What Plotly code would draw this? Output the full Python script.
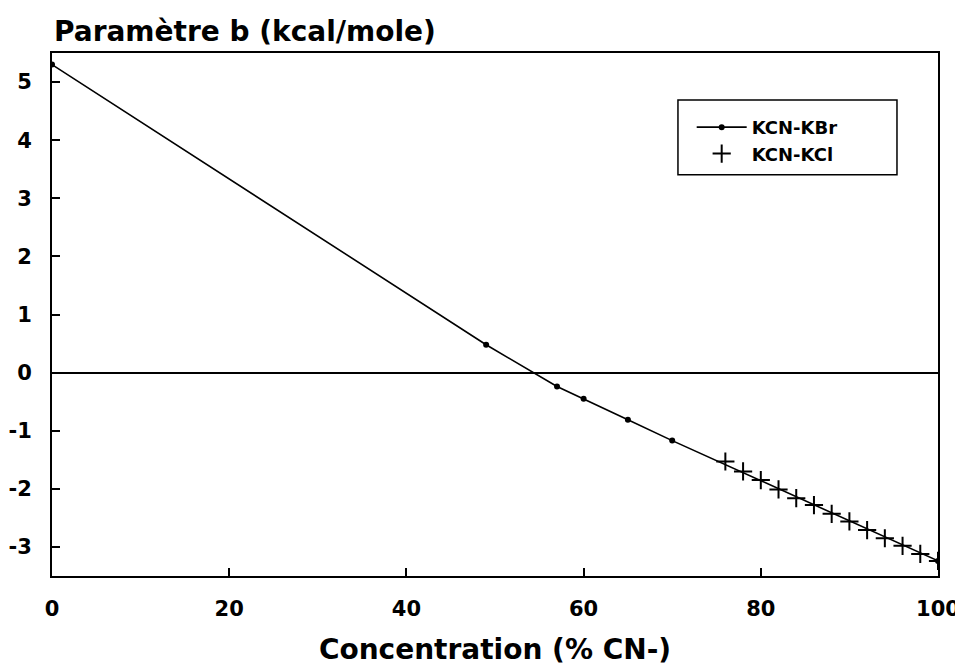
import plotly.graph_objects as go

# --- data ---
kbr_x = [0, 49, 57, 60, 65, 70, 100]
kbr_y = [5.30, 0.48, -0.24, -0.45, -0.81, -1.17, -3.24]

kcl_x = [76, 78, 80, 82, 84, 86, 88, 90, 92, 94, 96, 98, 100]
kcl_y = [-1.53, -1.70, -1.85, -2.01, -2.16, -2.28, -2.43, -2.56, -2.71, -2.85, -2.98, -3.12, -3.24]

x_ticks = [0, 20, 40, 60, 80, 100]
x_ticktext = ["0", "20", "40", "60", "80", "100"]
y_ticks = [-3, -2, -1, 0, 1, 2, 3, 4, 5]
y_ticktext = ["-3", "-2", "-1", "0", "1", "2", "3", "4", "5"]

title_text = "Paramètre b (kcal/mole)"
x_title = "Concentration (% CN-)"
name_kbr = "KCN-KBr"
name_kcl = "KCN-KCl"

FONT = "DejaVu Sans"

fig = go.Figure()
fig.add_trace(go.Scatter(
    x=kbr_x, y=kbr_y, name=name_kbr, mode="lines+markers",
    line=dict(color="black", width=1.6),
    marker=dict(symbol="circle", size=6, color="black"),
))
fig.add_trace(go.Scatter(
    x=kcl_x, y=kcl_y, name=name_kcl, mode="markers",
    marker=dict(symbol="cross-thin-open", size=13, color="black",
                line=dict(color="black", width=2)),
))

# page body has an 8px default margin, so the figure is sized/offset to compensate
fig.update_layout(
    width=955, height=658,
    margin=dict(l=44, r=25, t=45, b=90),
    paper_bgcolor="white", plot_bgcolor="white",
    font=dict(family=FONT, color="black"),
    showlegend=True,
    legend=dict(
        x=0.722, y=0.893, xanchor="left", yanchor="top",
        bgcolor="rgba(0,0,0,0)", borderwidth=0,
        font=dict(family=FONT, size=18, color="black", weight="bold"),
        itemwidth=50,
    ),
    shapes=[dict(
        type="rect", xref="paper", yref="paper",
        x0=0.7065, x1=0.9537, y0=0.767, y1=0.910,
        line=dict(color="black", width=1.5), fillcolor="rgba(0,0,0,0)",
    )],
    annotations=[dict(
        text=title_text, xref="paper", yref="paper",
        x=0.0, y=1.042, xanchor="left", yanchor="middle", showarrow=False,
        font=dict(family=FONT, size=28, color="black", weight="bold"),
    )],
)

fig.update_xaxes(
    range=[0, 100], tickvals=x_ticks, ticktext=x_ticktext,
    ticks="inside", ticklen=8, tickwidth=1.5, tickcolor="black",
    ticklabelstandoff=13, automargin=False,
    tickfont=dict(family=FONT, size=21, color="black", weight="bold"),
    showline=True, linecolor="black", linewidth=1.5, mirror=True,
    showgrid=False, zeroline=False,
    title=dict(text=x_title, standoff=19,
               font=dict(family=FONT, size=28, color="black", weight="bold")),
)
fig.update_yaxes(
    range=[-3.5, 5.5], tickvals=y_ticks, ticktext=y_ticktext,
    ticks="inside", ticklen=8, tickwidth=1.5, tickcolor="black",
    ticklabelstandoff=14, automargin=False,
    tickfont=dict(family=FONT, size=21, color="black", weight="bold"),
    showline=True, linecolor="black", linewidth=2, mirror=True,
    showgrid=False,
    zeroline=True, zerolinecolor="black", zerolinewidth=1.5,
)

fig.write_html("out.html")
